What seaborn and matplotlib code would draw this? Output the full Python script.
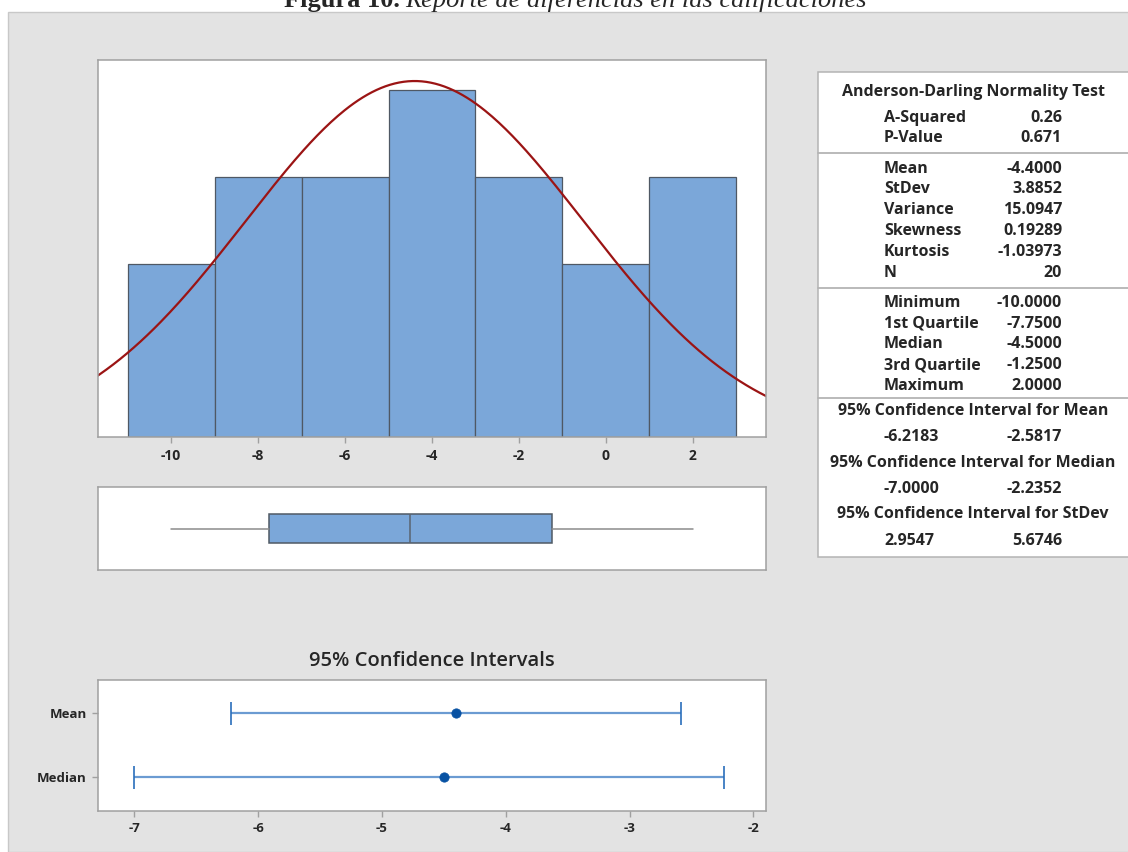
import numpy as np
import matplotlib
matplotlib.use("Agg")
import matplotlib.pyplot as plt
from matplotlib.patches import Rectangle
import seaborn as sns

# histogram data (Minitab graphical summary)
bin_edges = [-11, -9, -7, -5, -3, -1, 1, 3]
bin_centers = [-10, -8, -6, -4, -2, 0, 2]
counts = [2, 3, 3, 4, 3, 2, 3]

# summary statistics
n_obs = 20
mean_val = -4.4
sd_val = 3.8852
box_stats = {"whislo": -10.0, "q1": -7.75, "med": -4.5, "q3": -1.25, "whishi": 2.0}

ci_labels = ["Mean", "Median"]
ci_center = [-4.4, -4.5]
ci_low = [-6.2183, -7.0]
ci_high = [-2.5817, -2.2352]

table_rows = [
    ("A-Squared", "0.26"), ("P-Value", "0.671"),
    ("Mean", "-4.4000"), ("StDev", "3.8852"), ("Variance", "15.0947"),
    ("Skewness", "0.19289"), ("Kurtosis", "-1.03973"), ("N", "20"),
    ("Minimum", "-10.0000"), ("1st Quartile", "-7.7500"), ("Median", "-4.5000"),
    ("3rd Quartile", "-1.2500"), ("Maximum", "2.0000"),
]
ci_rows = [
    ("95% Confidence Interval for Mean", "-6.2183", "-2.5817"),
    ("95% Confidence Interval for Median", "-7.0000", "-2.2352"),
    ("95% Confidence Interval for StDev", "2.9547", "5.6746"),
]

sns.set_style("white")
plt.rcParams["font.family"] = ["Open Sans", "DejaVu Sans"]
plt.rcParams["font.weight"] = "bold"
plt.rcParams["axes.unicode_minus"] = False

W, H = 1128, 852
def fx(x):
    return x / W
def fy(y):
    return 1 - y / H

fig = plt.figure(figsize=(W / 100, H / 100), dpi=100, facecolor="white")

# gray panel background
fig.patches.append(Rectangle((fx(8), 0), 1, fy(12), transform=fig.transFigure,
                             facecolor="#e3e3e3", edgecolor="#c8c8c8", lw=1, zorder=-2))

# caption (cut at the top, like the source)
fig.text(fx(400), fy(7), "Figura 10.", ha="right", va="baseline", fontsize=19,
         family="Liberation Serif", weight="bold")
fig.text(fx(405), fy(7), "Reporte de diferencias en las calificaciones", ha="left",
         va="baseline", fontsize=19, family="Liberation Serif", style="italic", weight="normal")

spine_col = "#a0a0a0"

def style_axes(ax):
    ax.set_facecolor("white")
    for s in ax.spines.values():
        s.set_color(spine_col)
        s.set_linewidth(1.1)
        s.set_visible(True)

# 1. histogram with fitted normal
ax_h = fig.add_axes([fx(98), fy(437), 668 / W, 377 / H])
style_axes(ax_h)
sns.histplot(x=bin_centers, weights=counts, bins=bin_edges, color="#7ba7d9",
             edgecolor="#4f5864", linewidth=0.9, alpha=1, ax=ax_h)
xs = np.linspace(-11.8, 3.8, 300)
ys = n_obs * 2 * np.exp(-0.5 * ((xs - mean_val) / sd_val) ** 2) / (sd_val * np.sqrt(2 * np.pi))
sns.lineplot(x=xs, y=ys, color="#9b1414", linewidth=1.6, ax=ax_h)
ax_h.set_xlim(-11.68, 3.68)
ax_h.set_ylim(0, 4.35)
ax_h.set_xticks([-10, -8, -6, -4, -2, 0, 2])
ax_h.set_yticks([])
ax_h.set_xlabel("")
ax_h.set_ylabel("")
ax_h.tick_params(axis="x", bottom=True, length=4, width=1, color=spine_col, labelsize=10, pad=5)

# 2. boxplot
ax_b = fig.add_axes([fx(98), fy(570), 668 / W, 83 / H])
style_axes(ax_b)
bs = dict(box_stats, fliers=[])
ax_b.bxp([bs], orientation="horizontal", widths=0.35, patch_artist=True, showcaps=False,
         boxprops=dict(facecolor="#7ba7d9", edgecolor="#505a64", linewidth=1.1),
         medianprops=dict(color="#5a6470", linewidth=1.1),
         whiskerprops=dict(color="#8c8c8c", linewidth=1.1))
ax_b.set_xlim(-11.68, 3.68)
ax_b.set_ylim(0.5, 1.5)
ax_b.set_xticks([])
ax_b.set_yticks([])

# 3. confidence intervals
ax_c = fig.add_axes([fx(98), fy(811), 668 / W, 131 / H])
style_axes(ax_c)
ypos = list(range(len(ci_labels)))
for i in ypos:
    ax_c.hlines(i, ci_low[i], ci_high[i], color="#6b9bd2", linewidth=1.6)
    ax_c.vlines([ci_low[i], ci_high[i]], i - 0.18, i + 0.18, color="#2a6ebb", linewidth=1.2)
sns.scatterplot(x=ci_center, y=ypos, color="#0852a3", s=45, edgecolor="#0852a3", ax=ax_c, zorder=5)
ax_c.set_xlim(-7.294, -1.899)
ax_c.set_ylim(1.53, -0.52)
ax_c.set_yticks(ypos)
ax_c.set_yticklabels(ci_labels)
ax_c.set_xticks([-7, -6, -5, -4, -3, -2])
ax_c.tick_params(axis="both", length=4, width=1, color=spine_col, labelsize=9.5, pad=4,
                 bottom=True, left=True)
ax_c.set_xlabel("")
ax_c.set_ylabel("")
fig.text(fx(432), fy(661), "95% Confidence Intervals", ha="center", va="center", fontsize=14.5,
         weight="semibold")

# 4. statistics table
fig.patches.append(Rectangle((fx(818), fy(557)), 1, (557 - 72) / H, transform=fig.transFigure,
                             facecolor="white", edgecolor="#b4b4b4", lw=1.1, zorder=-1))
for yy in [153, 288, 398]:
    fig.add_artist(plt.Line2D([fx(818), 1], [fy(yy), fy(yy)], color="#b4b4b4", lw=1.3))

tfs = 11.5
fig.text(fx(973), fy(92), "Anderson-Darling Normality Test", ha="center", va="center", fontsize=tfs)
row_y = [118, 138, 169, 189, 210, 231, 252, 273, 303, 324, 344, 365, 386]
for (lab, val), yy in zip(table_rows, row_y):
    fig.text(fx(884), fy(yy), lab, ha="left", va="center", fontsize=tfs)
    fig.text(fx(1062), fy(yy), val, ha="right", va="center", fontsize=tfs)
for (head, lo, hi), yh, yv in zip(ci_rows, [411, 463, 514], [437, 489, 541]):
    fig.text(fx(973), fy(yh), head, ha="center", va="center", fontsize=tfs)
    fig.text(fx(884), fy(yv), lo, ha="left", va="center", fontsize=tfs)
    fig.text(fx(1062), fy(yv), hi, ha="right", va="center", fontsize=tfs)

fig.savefig("out.png", dpi=100, facecolor=fig.get_facecolor())
